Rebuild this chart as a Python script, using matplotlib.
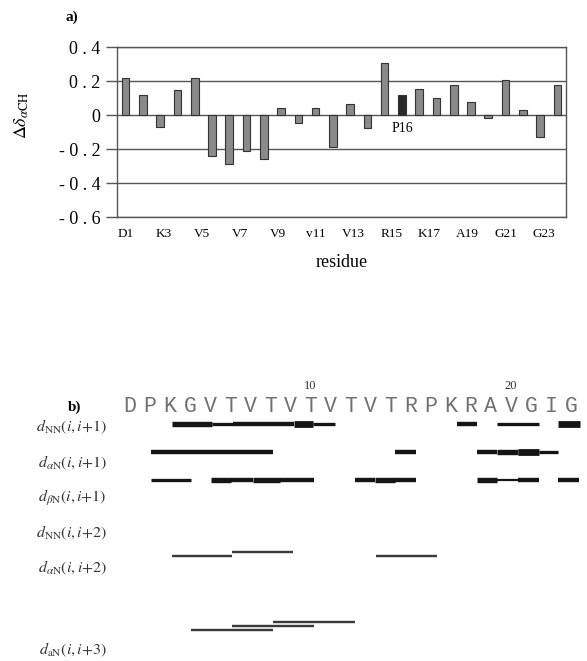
import numpy as np
import matplotlib
matplotlib.use("Agg")
import matplotlib.pyplot as plt

plt.rcParams["font.family"] = ["Liberation Serif", "DejaVu Serif"]
plt.rcParams["mathtext.fontset"] = "stix"

# ---- panel a) data ----
shift_values = [0.22, 0.12, -0.07, 0.15, 0.22, -0.24, -0.29, -0.21, -0.26, 0.04,
                -0.045, 0.04, -0.19, 0.065, -0.075, 0.305, 0.12, 0.155, 0.10, 0.175,
                0.075, -0.015, 0.205, 0.03, -0.13, 0.175]
highlight_index = 16
residue_labels = ["D1", "K3", "V5", "V7", "V9", "v11", "V13", "R15", "K17", "A19", "G21", "G23"]
y_ticks = [0.4, 0.2, 0, -0.2, -0.4, -0.6]
y_tick_labels = ["0 . 4", "0 . 2", "0", "- 0 . 2", "- 0 . 4", "- 0 . 6"]

# ---- panel b) data ----
sequence = "DPKGVTVTVTVTVTRPKRAVGIG"
row_labels = [r"$d_{\mathrm{NN}}(i,i{+}1)$", r"$d_{\alpha\mathrm{N}}(i,i{+}1)$",
              r"$d_{\beta\mathrm{N}}(i,i{+}1)$", r"$d_{\mathrm{NN}}(i,i{+}2)$",
              r"$d_{\alpha\mathrm{N}}(i,i{+}2)$", r"$d_{\mathrm{aN}}(i,i{+}3)$"]
# (start residue, end residue, intensity 1..5)
noe_nn1 = [(3.1, 5.1, 4), (5.1, 6.15, 2), (6.15, 9.2, 3), (9.2, 10.15, 5), (10.15, 11.2, 2),
           (17.3, 18.3, 3), (19.3, 21.4, 2), (22.35, 23.45, 5)]
noe_an1 = [(2.05, 8.15, 3), (14.2, 15.25, 3), (18.3, 19.3, 3), (19.3, 20.35, 4),
           (20.35, 21.4, 5), (21.4, 22.35, 2)]
noe_bn1 = [(2.05, 4.05, 2), (5.05, 6.05, 4), (6.05, 7.15, 3), (7.15, 8.5, 4), (8.5, 10.2, 3),
           (12.2, 13.2, 3), (13.2, 14.2, 4), (14.2, 15.25, 3), (18.3, 19.3, 4),
           (19.3, 20.35, 1), (20.35, 21.4, 3), (22.35, 23.4, 3)]
noe_an2 = [(3.1, 6.1), (6.1, 9.15), (13.25, 16.3)]
noe_an3 = [(4.05, 8.15), (6.1, 10.2), (8.15, 12.2)]

W, H = 587, 661
fig = plt.figure(figsize=(W / 100, H / 100), dpi=100)

# ---------------- panel a ----------------
ax = fig.add_axes([117 / W, 1 - 217 / H, 449 / W, 170 / H])
x = np.arange(len(shift_values))
colors = ["#8a8a8a"] * len(shift_values)
colors[highlight_index] = "#2a2a2a"
ax.bar(x, shift_values, width=0.44, color=colors, edgecolor="#333333", linewidth=0.8, zorder=3)
ax.set_xlim(-0.5, len(shift_values) - 0.5)
ax.set_ylim(-0.6, 0.4)
ax.set_yticks(y_ticks)
ax.set_yticklabels(y_tick_labels, fontsize=13)
for yv in y_ticks:
    ax.axhline(yv, color="#555555", linewidth=1.0, zorder=1)
ax.set_xticks(np.arange(len(residue_labels)) * 2.2)
ax.set_xticklabels(residue_labels, fontsize=9.5)
ax.tick_params(axis="x", length=0, pad=8)
ax.tick_params(axis="y", length=8, width=1, color="#555555", pad=4)
for sp in ax.spines.values():
    sp.set_color("#555555")
    sp.set_linewidth(1.0)
ax.text(highlight_index, -0.08, "P16", ha="center", va="center", fontsize=10)
ax.set_xlabel("residue", fontsize=13, labelpad=10)
fig.text(22 / W, 1 - 115 / H, r"$\Delta\delta_{\alpha\mathrm{CH}}$", rotation=90,
         ha="center", va="center", fontsize=13)
fig.text(65 / W, 1 - 17 / H, "a)", fontsize=11, fontweight="bold", ha="left", va="center")

# ---------------- panel b ----------------
x0, dx = 130, 20.05
ax2 = fig.add_axes([0, 0, 1, 291 / H])
ax2.set_xlim(1 - x0 / dx, 1 + (W - x0) / dx)
ax2.set_ylim(H, 370)
ax2.axis("off")

for k, ch in enumerate(sequence):
    ax2.text(k + 1, 407, ch, family=["Liberation Mono", "DejaVu Sans Mono"], fontsize=15.5,
             color="#707070", ha="center", va="center")
for num in (10, 20):
    ax2.text(num, 386, str(num), fontsize=9, color="#333333", ha="center", va="center")
ax2.text(1 - (x0 - 75) / dx, 407, "b)", fontsize=11, fontweight="bold", ha="center", va="center")

label_y = [427, 463, 498, 533, 568, 650]
for lab, ly in zip(row_labels, label_y):
    ax2.text(1 - (x0 - 107) / dx, ly, lab, fontsize=11.5, color="#333333", ha="right", va="center")

px_width = {1: 2.2, 2: 3.3, 3: 4.4, 4: 5.4, 5: 6.8}
for segs, yrow in ((noe_nn1, 424), (noe_an1, 451.5), (noe_bn1, 479.5)):
    for s, e, lev in segs:
        ax2.plot([s, e], [yrow, yrow], color="#151515", linewidth=px_width[lev] * 0.72,
                 solid_capstyle="butt")

for segs, ybase in ((noe_an2, 555.5), (noe_an3, 630)):
    off = 0
    prev_end = -99
    for s, e in segs:
        off = off + 4 if s <= prev_end + 0.05 else 0
        ax2.plot([s, e], [ybase - off, ybase - off], color="#3a3a3a", linewidth=2.4 * 0.72,
                 solid_capstyle="butt")
        prev_end = e

fig.savefig("out.png", dpi=100)
